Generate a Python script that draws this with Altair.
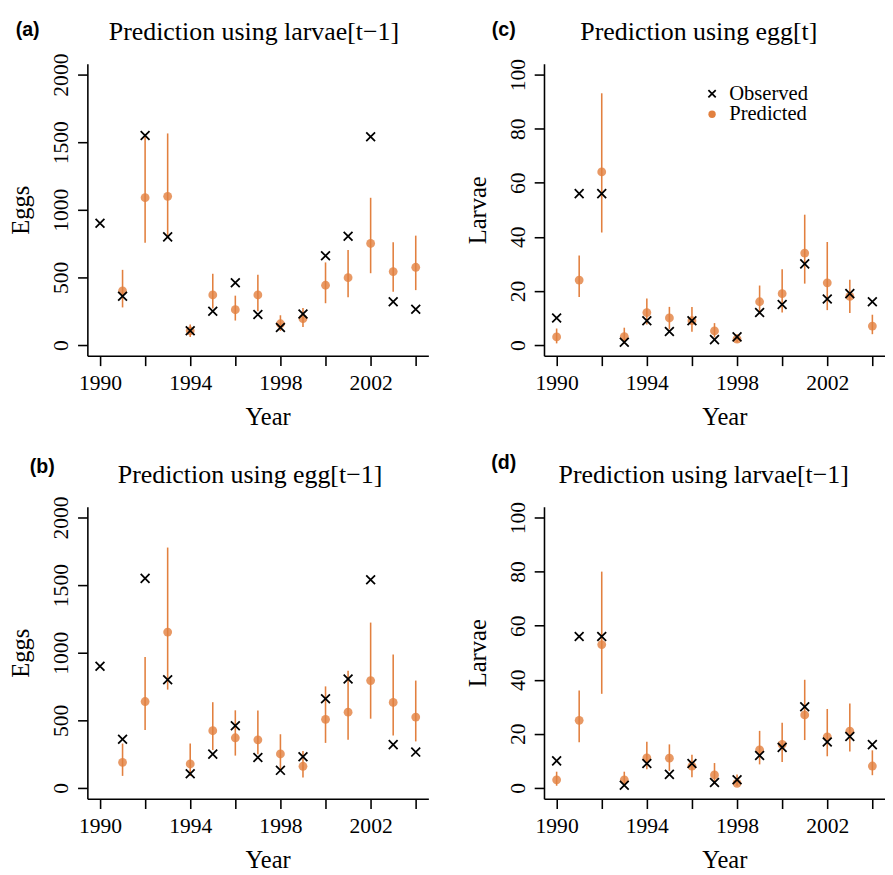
import altair as alt
import pandas as pd

years = list(range(1990, 2005))

obs_eggs = [900, 360, 1550, 800, 105, 250, 460, 225, 130, 230, 660, 805, 1540, 320, 265]
pred_a = [None, 400, 1090, 1100, 105, 370, 261, 370, 157, 196, 442, 498, 751, 543, 575]
lo_a = [None, 278, 756, 790, 60, 270, 181, 250, 104, 133, 309, 353, 531, 394, 406]
hi_a = [None, 556, 1541, 1565, 152, 527, 365, 519, 220, 273, 611, 703, 1089, 761, 809]
pred_b = [None, 189, 639, 1153, 177, 423, 371, 356, 251, 160, 507, 560, 794, 632, 524]
lo_b = [None, 89, 428, 727, 89, 280, 239, 249, 129, 77, 333, 356, 512, 388, 344]
hi_b = [None, 328, 969, 1778, 328, 634, 574, 572, 397, 273, 751, 866, 1223, 986, 794]

obs_larvae = [10, 56, 56, 1, 9, 5, 9, 2, 3, 12, 15, 30, 17, 19, 16]
pred_c = [3, 24, 64, 3.1, 12, 10, 9, 5.2, 2.2, 16, 19, 34, 23, 18, 7]
lo_c = [0.6, 17.8, 41.6, 0.4, 7.6, 5.8, 4.9, 2.8, 1.0, 11.4, 12, 22.7, 12.9, 11.8, 4.0]
hi_c = [6.1, 33.1, 93.1, 6.4, 17.2, 14.1, 14.1, 8.1, 4.0, 22, 28, 48.2, 38.1, 24.1, 11.2]
pred_d = [3, 25, 53, 3, 11.1, 11, 8.1, 4.8, 1.7, 14.1, 16.1, 27, 18.9, 21, 8.1]
lo_d = [0.8, 16.9, 34.8, 0.5, 6.9, 6.3, 3.9, 1.4, 0.8, 8.7, 9.6, 17.7, 11.7, 13.5, 4.7]
hi_d = [6, 36, 80, 6, 17.1, 16.1, 12.3, 9.2, 5, 21.1, 24.1, 40, 29.2, 31.2, 13.9]

egg_ticks = [0, 500, 1000, 1500, 2000]
larvae_ticks = [0, 20, 40, 60, 80, 100]
year_ticks = list(range(1990, 2005, 2))
series_names = ["Observed", "Predicted"]
tags = ["(a)", "(b)", "(c)", "(d)"]
titles = ["Prediction using larvae[t\u22121]", "Prediction using egg[t\u22121]",
          "Prediction using egg[t]", "Prediction using larvae[t\u22121]"]

BAR = "#E2803F"
SERIF = "Liberation Serif"
W, H = 348, 298
CROSS = "M-1,-1L1,1M1,-1L-1,1"


def panel(obs, pred, lo, hi, ylab, ydom, yticks, title, tag, tagpos, title_dx, legend):
    rows = []
    for y, v, l, h in zip(years, pred, lo, hi):
        if v is not None:
            rows.append({"year": y, "value": v, "type": "Predicted", "lo": l, "hi": h})
    for y, v in zip(years, obs):
        rows.append({"year": y, "value": v, "type": "Observed", "lo": None, "hi": None})
    df = pd.DataFrame(rows)

    xsc = alt.Scale(domain=[1989.44, 2004.56], nice=False, zero=False)
    ysc = alt.Scale(domain=ydom, nice=False, zero=False)
    xax = alt.Axis(values=year_ticks, format="d",
                   labelExpr="(datum.value - 1990) % 4 == 0 ? datum.label : ''",
                   title="Year", titleX=W / 2 + 10, titleY=70, titleBaseline="alphabetic",
                   titleAlign="center", labelBaseline="top", labelPadding=7)
    yax = alt.Axis(values=yticks, format="d", title=ylab, labelAngle=270, labelAlign="center",
                   labelBaseline="alphabetic", labelPadding=10,
                   titleAngle=270, titleX=-60, titleY=H / 2,
                   titleBaseline="alphabetic", titleAlign="center")

    base = alt.Chart(df)
    bars = base.transform_filter(alt.datum.type == "Predicted").mark_rule(
        color=BAR, strokeWidth=1.6
    ).encode(
        x=alt.X("year:Q", scale=xsc, axis=xax),
        y=alt.Y("lo:Q", scale=ysc, axis=yax),
        y2="hi:Q",
    )
    if legend:
        leg = alt.Legend(orient="none", legendX=161, legendY=20, title=None,
                         labelFont=SERIF, labelFontSize=21, labelColor="black",
                         symbolSize=56, symbolStrokeWidth=1.8, rowPadding=-12,
                         padding=0, labelOffset=7)
    else:
        leg = None
    dom = alt.Scale(domain=series_names, range=[CROSS, "circle"])
    pts = base.mark_point(filled=True, size=81, strokeWidth=1.8, fillOpacity=0.8, opacity=1).encode(
        x=alt.X("year:Q", scale=xsc, axis=xax),
        y=alt.Y("value:Q", scale=ysc, axis=yax),
        shape=alt.Shape("type:N", scale=dom, legend=leg),
        fill=alt.Fill("type:N", scale=alt.Scale(domain=series_names, range=["black", BAR]), legend=leg),
        stroke=alt.Stroke("type:N", scale=alt.Scale(domain=series_names, range=["black", "transparent"]), legend=leg),
    )
    tagc = alt.Chart(pd.DataFrame({"t": [tag]})).mark_text(
        font="Liberation Sans", fontWeight="bold", fontSize=20, align="center",
        baseline="alphabetic", color="black"
    ).encode(text="t:N", x=alt.value(tagpos[0]), y=alt.value(tagpos[1]))
    titlec = alt.Chart(pd.DataFrame({"t": [title]})).mark_text(
        font=SERIF, fontSize=26.4, align="center", baseline="alphabetic", color="black"
    ).encode(text="t:N", x=alt.value(W / 2 + title_dx), y=alt.value(-24))
    return alt.layer(bars, pts, tagc, titlec).properties(width=W, height=H)


pa = panel(obs_eggs, pred_a, lo_a, hi_a, "Eggs", [-80, 2080], egg_ticks, titles[0], tags[0], (-61, -28), -4, False)
pb = panel(obs_eggs, pred_b, lo_b, hi_b, "Eggs", [-80, 2080], egg_ticks, titles[1], tags[1], (-46, -34), -8, False)
pc = panel(obs_larvae, pred_c, lo_c, hi_c, "Larvae", [-4, 104], larvae_ticks, titles[2], tags[2], (-41, -28), -16, True)
pd_ = panel(obs_larvae, pred_d, lo_d, hi_d, "Larvae", [-4, 104], larvae_ticks, titles[3], tags[3], (-41, -39), -11, False)

chart = alt.concat(
    pa, pc, pb, pd_, columns=2, spacing={"row": 154, "column": 118}, bounds="flush"
).resolve_scale(
    x="independent", y="independent", shape="independent", fill="independent", stroke="independent"
).properties(
    padding={"left": 1, "top": 3, "right": 0, "bottom": 0}
).configure_view(
    stroke=None
).configure_axis(
    domainColor="black", domainWidth=1.6, tickColor="black", tickWidth=1.6, tickSize=10,
    labelFont=SERIF, labelFontSize=22, labelColor="black", labelOverlap=False, labelFlush=False,
    titleFont=SERIF, titleFontSize=25, titleFontWeight="normal", titleColor="black", grid=False,
)

chart.save("out.html", embed_options={"renderer": "svg", "actions": False})
